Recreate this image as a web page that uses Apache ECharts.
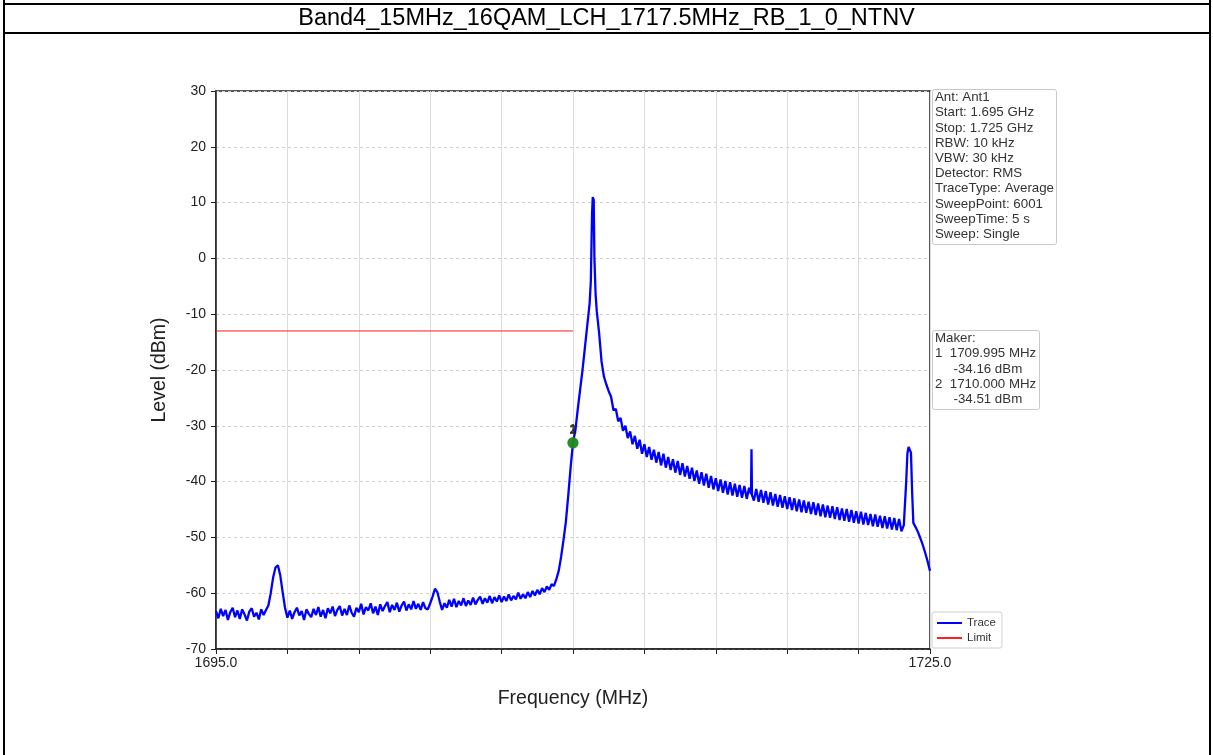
<!DOCTYPE html>
<html>
<head>
<meta charset="utf-8">
<script src="https://cdn.jsdelivr.net/npm/echarts@6/dist/echarts.min.js"></script>
<style>
    html, body { margin: 0; padding: 0; background: #fff; }
    #chart { width: 1213px; height: 755px; }
</style>
</head>
<body>
<div id="chart"></div>
<script>
// 图表标题
const chartTitle = "Band4_15MHz_16QAM_LCH_1717.5MHz_RB_1_0_NTNV"

// 扫频参数
const infoLines = [
    "Ant: Ant1",
    "Start: 1.695 GHz",
    "Stop: 1.725 GHz",
    "RBW: 10 kHz",
    "VBW: 30 kHz",
    "Detector: RMS",
    "TraceType: Average",
    "SweepPoint: 6001",
    "SweepTime: 5 s",
    "Sweep: Single",
]

// Marker 读数
const makerLines = [
    "Maker:",
    "1  1709.995 MHz",
    "     -34.16 dBm",
    "2  1710.000 MHz",
    "     -34.51 dBm",
]

// 坐标轴
const xTicks = [1695, 1725]
const yRange = [-70, 30]

// 频谱迹线 (MHz / dBm)
const traceFreq = [
    1695.0, 1695.1, 1695.2, 1695.3, 1695.4, 1695.5, 1695.6, 1695.7, 1695.8, 1695.9,
    1696.0, 1696.1, 1696.2, 1696.3, 1696.4, 1696.5, 1696.6, 1696.7, 1696.8, 1696.9,
    1697.0, 1697.1, 1697.2, 1697.3, 1697.4, 1697.5, 1697.6, 1697.7, 1697.8, 1697.9,
    1698.0, 1698.1, 1698.2, 1698.3, 1698.4, 1698.5, 1698.6, 1698.7, 1698.8, 1698.9,
    1699.0, 1699.1, 1699.2, 1699.3, 1699.4, 1699.5, 1699.6, 1699.7, 1699.8, 1699.9,
    1700.0, 1700.1, 1700.2, 1700.3, 1700.4, 1700.5, 1700.6, 1700.7, 1700.8, 1700.9,
    1701.0, 1701.1, 1701.2, 1701.3, 1701.4, 1701.5, 1701.6, 1701.7, 1701.8, 1701.9,
    1702.0, 1702.1, 1702.2, 1702.3, 1702.4, 1702.5, 1702.6, 1702.7, 1702.8, 1702.9,
    1703.0, 1703.1, 1703.2, 1703.3, 1703.4, 1703.5, 1703.6, 1703.7, 1703.8, 1703.9,
    1704.0, 1704.1, 1704.2, 1704.3, 1704.4, 1704.5, 1704.6, 1704.7, 1704.8, 1704.9,
    1705.0, 1705.1, 1705.2, 1705.3, 1705.4, 1705.5, 1705.6, 1705.7, 1705.8, 1705.9,
    1706.0, 1706.1, 1706.2, 1706.3, 1706.4, 1706.5, 1706.6, 1706.7, 1706.8, 1706.9,
    1707.0, 1707.1, 1707.2, 1707.3, 1707.4, 1707.5, 1707.6, 1707.7, 1707.8, 1707.9,
    1708.0, 1708.1, 1708.2, 1708.3, 1708.4, 1708.5, 1708.6, 1708.7, 1708.8, 1708.9,
    1709.0, 1709.1, 1709.2, 1709.3, 1709.4, 1709.5, 1709.6, 1709.7, 1709.8, 1709.9,
    1710.0, 1710.1, 1710.2, 1710.3, 1710.4, 1710.5, 1710.6, 1710.7, 1710.75, 1710.8,
    1710.83, 1710.87, 1710.9, 1710.95, 1711.0, 1711.1, 1711.2, 1711.3, 1711.4, 1711.5,
    1711.6, 1711.7, 1711.8, 1711.9, 1712.0, 1712.1, 1712.2, 1712.3, 1712.4, 1712.5,
    1712.6, 1712.7, 1712.8, 1712.9, 1713.0, 1713.1, 1713.2, 1713.3, 1713.4, 1713.5,
    1713.6, 1713.7, 1713.8, 1713.9, 1714.0, 1714.1, 1714.2, 1714.3, 1714.4, 1714.5,
    1714.6, 1714.7, 1714.8, 1714.9, 1715.0, 1715.1, 1715.2, 1715.3, 1715.4, 1715.5,
    1715.6, 1715.7, 1715.8, 1715.9, 1716.0, 1716.1, 1716.2, 1716.3, 1716.4, 1716.5,
    1716.6, 1716.7, 1716.8, 1716.9, 1717.0, 1717.1, 1717.2, 1717.3, 1717.4, 1717.48,
    1717.5, 1717.52, 1717.6, 1717.7, 1717.8, 1717.9, 1718.0, 1718.1, 1718.2, 1718.3,
    1718.4, 1718.5, 1718.6, 1718.7, 1718.8, 1718.9, 1719.0, 1719.1, 1719.2, 1719.3,
    1719.4, 1719.5, 1719.6, 1719.7, 1719.8, 1719.9, 1720.0, 1720.1, 1720.2, 1720.3,
    1720.4, 1720.5, 1720.6, 1720.7, 1720.8, 1720.9, 1721.0, 1721.1, 1721.2, 1721.3,
    1721.4, 1721.5, 1721.6, 1721.7, 1721.8, 1721.9, 1722.0, 1722.1, 1722.2, 1722.3,
    1722.4, 1722.5, 1722.6, 1722.7, 1722.8, 1722.9, 1723.0, 1723.1, 1723.2, 1723.3,
    1723.4, 1723.5, 1723.6, 1723.7, 1723.8, 1723.9, 1724.0, 1724.05, 1724.1, 1724.15,
    1724.2, 1724.25, 1724.3, 1724.4, 1724.5, 1724.6, 1724.7, 1724.8, 1724.9, 1725.0,
]
const traceLevel = [
    -63.2, -64.5, -62.8, -64.1, -63.0, -64.8, -63.4, -62.6, -64.3, -63.1,
    -64.6, -62.9, -63.8, -64.9, -63.3, -62.7, -64.2, -63.5, -64.7, -62.9,
    -63.9, -63.0, -62.2, -60.0, -57.2, -55.4, -55.0, -56.8, -59.8, -62.6,
    -64.4, -63.1, -64.6, -63.4, -62.6, -64.0, -63.2, -64.8, -62.9, -63.7,
    -64.3, -62.8, -63.9, -62.5, -64.2, -63.0, -64.5, -62.7, -63.6, -62.4,
    -64.1, -63.0, -62.3, -64.0, -62.8, -63.9, -62.2, -63.5, -64.2, -62.6,
    -63.4, -61.9, -63.8, -62.5, -63.1, -61.8, -63.6, -62.4, -63.9, -62.0,
    -63.2, -62.3, -61.6, -63.4, -62.1, -63.0, -61.7, -63.3, -62.2, -61.5,
    -63.1, -62.0, -62.9, -61.4, -62.8, -61.9, -63.0, -61.6, -62.7, -62.9,
    -61.8, -60.6, -59.2, -59.8, -61.5, -63.0, -61.8, -62.6, -61.2, -62.4,
    -61.0, -62.5, -61.4, -62.2, -60.9, -62.3, -61.3, -62.1, -60.8, -62.0,
    -61.2, -60.6, -61.9, -60.9, -61.7, -60.5, -61.8, -60.7, -61.5, -60.4,
    -61.6, -60.6, -61.4, -60.2, -61.3, -60.5, -61.1, -59.9, -61.0, -60.2,
    -60.9, -59.8, -60.7, -59.6, -60.4, -59.4, -60.2, -59.1, -59.8, -58.8,
    -59.4, -58.4, -58.7, -57.5, -56.0, -53.5, -50.5, -47.2, -42.5, -37.5,
    -33.0, -30.8, -27.0, -23.5, -20.0, -16.0, -12.0, -8.0, -4.0, 8.0,
    11.0, 10.5, 0.0, -6.5, -9.5, -13.5, -18.5, -21.2, -22.6, -23.8,
    -24.8, -27.2, -27.0, -29.2, -28.6, -30.9, -30.0, -32.2, -31.0, -33.3,
    -31.8, -34.1, -32.5, -35.0, -33.3, -35.6, -33.8, -36.1, -34.3, -36.6,
    -34.7, -37.1, -35.0, -37.5, -35.6, -37.9, -36.0, -38.4, -36.3, -38.8,
    -36.7, -39.1, -37.2, -39.5, -37.5, -39.9, -38.0, -40.4, -38.3, -40.7,
    -38.6, -41.1, -39.0, -41.4, -39.4, -41.7, -39.6, -42.0, -39.9, -42.3,
    -40.1, -42.5, -40.4, -42.7, -40.6, -42.9, -40.8, -43.1, -41.1, -42.2,
    -34.2, -42.4, -43.4, -41.3, -43.6, -41.5, -43.8, -41.7, -44.1, -41.9,
    -44.3, -42.2, -44.5, -42.4, -44.7, -42.6, -44.9, -42.8, -45.1, -43.0,
    -45.3, -43.2, -45.5, -43.4, -45.6, -43.6, -45.8, -43.7, -46.0, -43.9,
    -46.2, -44.1, -46.4, -44.3, -46.5, -44.4, -46.7, -44.6, -46.9, -44.8,
    -47.0, -44.9, -47.2, -45.1, -47.4, -45.3, -47.5, -45.4, -47.7, -45.6,
    -47.8, -45.8, -48.0, -45.9, -48.1, -46.1, -48.3, -46.2, -48.4, -46.4,
    -48.6, -46.5, -48.7, -46.7, -48.9, -47.8, -40.0, -35.0, -33.8, -34.0,
    -34.8, -42.0, -47.4, -48.2, -49.1, -50.2, -51.4, -52.8, -54.3, -56.0,
]

// 限值线
const limitFreq = [1695, 1710]
const limitLevel = [-13, -13]

// Marker 点
const markerNames = ["1", "2"]
const markerFreq = [1709.995, 1710.0]
const markerLevel = [-33.0, -33.1]

const fontFamily = "Liberation Sans, Arial, sans-serif"

// 信息框通用样式
const boxStyle = (text, top) => {
    return {
        text: text,
        left: 932,
        top: top,
        padding: [1, 3, 3, 3],
        backgroundColor: '#fff',
        borderColor: '#c8c8c8',
        borderWidth: 1,
        borderRadius: 2,
        textStyle: {fontSize: 13.3, lineHeight: 15.2, fontWeight: 'normal', color: '#333', fontFamily: fontFamily},
    }
}

const renderChart = () => {
    const charts = echarts.init(document.getElementById("chart"))

    let option = {
        animation: false,
        backgroundColor: '#fff',
        textStyle: {fontFamily: fontFamily},
        title: [
            {
                text: chartTitle,
                left: 'center',
                top: 2,
                textStyle: {fontSize: 23.5, fontWeight: 'normal', color: '#000', fontFamily: fontFamily},
            },
            boxStyle(infoLines.join('\n'), 89),
            boxStyle(makerLines.join('\n'), 330),
        ],
        // 表格边框
        graphic: [
            {type: 'rect', shape: {x: 3, y: 0, width: 2, height: 755}, style: {fill: '#000'}},
            {type: 'rect', shape: {x: 1209, y: 0, width: 2, height: 755}, style: {fill: '#000'}},
            {type: 'rect', shape: {x: 3, y: 3, width: 1208, height: 2}, style: {fill: '#000'}},
            {type: 'rect', shape: {x: 3, y: 32, width: 1208, height: 2}, style: {fill: '#000'}},
        ],
        legend: {
            orient: 'vertical',
            left: 932,
            top: 612,
            padding: [5, 6, 4, 5],
            itemGap: 3,
            itemWidth: 25,
            itemHeight: 2,
            icon: 'rect',
            backgroundColor: '#fff',
            borderColor: '#d0d0d0',
            borderWidth: 1,
            borderRadius: 2,
            textStyle: {fontSize: 11.5, color: '#333'},
            data: ['Trace', 'Limit'],
        },
        grid: {
            show: true,
            left: 216,
            top: 91,
            width: 714,
            height: 558,
            borderColor: '#222',
            borderWidth: 1.5,
        },
        xAxis: {
            type: 'value',
            min: xTicks[0],
            max: xTicks[1],
            interval: 3,
            name: 'Frequency (MHz)',
            nameLocation: 'middle',
            nameGap: 40,
            nameTextStyle: {fontSize: 19.5, color: '#222'},
            axisLine: {show: true, onZero: false, lineStyle: {color: '#222', width: 1.5}},
            axisTick: {show: true, length: 5, lineStyle: {color: '#222'}},
            axisLabel: {
                fontSize: 14,
                color: '#222',
                margin: 7,
                showMinLabel: true,
                showMaxLabel: true,
                formatter: (v) => (xTicks.indexOf(v) >= 0 ? v.toFixed(1) : ''),
            },
            splitLine: {show: true, lineStyle: {color: '#dcdcdc', width: 1}},
        },
        yAxis: {
            type: 'value',
            min: yRange[0],
            max: yRange[1],
            interval: 10,
            name: 'Level (dBm)',
            nameLocation: 'middle',
            nameGap: 46,
            nameTextStyle: {fontSize: 19.5, color: '#222'},
            axisLine: {show: true, lineStyle: {color: '#222', width: 1.5}},
            axisTick: {show: true, length: 5, lineStyle: {color: '#222'}},
            axisLabel: {fontSize: 14, color: '#222', margin: 10},
            splitLine: {show: true, lineStyle: {color: '#cfcfcf', type: [3, 3], width: 1}},
        },
        series: [
            {
                name: 'Trace',
                type: 'line',
                symbol: 'none',
                color: '#0000ff',
                lineStyle: {color: '#0000ff', width: 2.3},
                data: traceFreq.map((f, i) => [f, traceLevel[i]]),
                z: 3,
            },
            {
                name: 'Limit',
                type: 'line',
                symbol: 'none',
                color: '#ff2020',
                lineStyle: {color: '#ff1a1a', width: 1},
                data: limitFreq.map((f, i) => [f, limitLevel[i]]),
                z: 2,
            },
            {
                name: 'Maker',
                type: 'scatter',
                symbolSize: 11,
                itemStyle: {color: '#1f8a1f'},
                label: {
                    show: true,
                    position: 'top',
                    distance: 1,
                    formatter: (p) => p.name,
                    fontSize: 13,
                    fontWeight: 'bold',
                    color: '#222',
                },
                data: markerFreq.map((f, i) => ({name: markerNames[i], value: [f, markerLevel[i]]})),
                z: 5,
            },
        ],
    }
    charts.setOption(option)
}

renderChart()
</script>
</body>
</html>
